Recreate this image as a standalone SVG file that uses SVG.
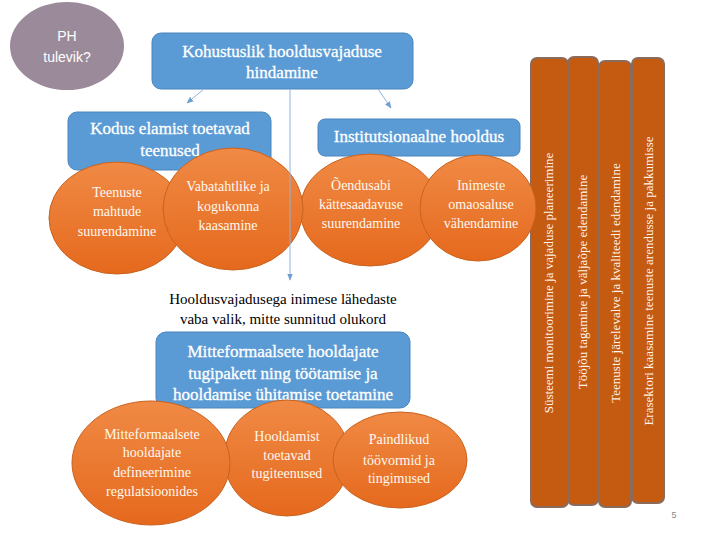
<svg xmlns="http://www.w3.org/2000/svg" width="720" height="540" viewBox="0 0 720 540">
<defs>
<linearGradient id="og" x1="0" y1="0" x2="0" y2="1">
<stop offset="0" stop-color="#f08a45"/>
<stop offset="1" stop-color="#e5691d"/>
</linearGradient>
<marker id="ah" viewBox="0 0 10 10" refX="9" refY="5" markerWidth="7" markerHeight="7" orient="auto-start-reverse">
<path d="M0,1 L10,5 L0,9 z" fill="#6f9fd0"/>
</marker>
<style>
.box{fill:#5b9bd5;stroke:#4a84bd;stroke-width:1}
.ell{fill:url(#og);stroke:#c9621f;stroke-width:1}
.bar{fill:#c55a11;stroke:#8a6b5c;stroke-width:2}
.bt{font-size:17px;fill:#fff;text-anchor:middle;stroke:#fff;stroke-width:0.3}
.et{font-size:14px;fill:#fff8ee;text-anchor:middle}
.vt{font-size:13px;fill:#fff2e6;text-anchor:middle}
.kt{font-size:15px;fill:#000;text-anchor:middle}
.con{stroke:#8fb3da;stroke-width:1;fill:none}
</style>
</defs>
<rect width="720" height="540" fill="#fff"/>

<g id="ph" font-family="Liberation Sans, Arial, sans-serif">
<ellipse cx="67" cy="46" rx="57" ry="44" fill="#9b8a9a"/>
<text x="67" y="41" font-size="14" fill="#fff" text-anchor="middle">PH</text>
<text x="67" y="62" font-size="14" fill="#fff" text-anchor="middle">tulevik?</text>
</g>

<g id="serifroot" font-family="Liberation Serif, Times New Roman, serif">
<g id="bars">
<g id="bar1"><rect class="bar" x="531" y="58" width="37" height="449" rx="6"/>
<text class="vt" transform="translate(553,283) rotate(-90)">Süsteemi  monitoorimine ja  vajaduse planeerimine</text></g>
<g id="bar2"><rect class="bar" x="568" y="57" width="30" height="448" rx="6"/>
<text class="vt" transform="translate(587,282) rotate(-90)">Tööjõu tagamine ja väljaõpe edendamine</text></g>
<g id="bar3"><rect class="bar" x="599" y="61" width="32" height="446" rx="6"/>
<text class="vt" transform="translate(620,283) rotate(-90)">Teenuste järelevalve ja kvaliteedi edendamine</text></g>
<g id="bar4"><rect class="bar" x="632" y="58" width="32" height="445" rx="6"/>
<text class="vt" transform="translate(653,281) rotate(-90)">Erasektori kaasamine teenuste arendusse ja pakkumisse</text></g>
</g>

<g id="top">
<rect class="box" x="152" y="33" width="261" height="56" rx="9"/>
<text class="bt" x="282" y="57">Kohustuslik hooldusvajaduse</text>
<text class="bt" x="282" y="78">hindamine</text>
</g>

<g id="kodus">
<rect class="box" x="68" y="112" width="203" height="58" rx="9"/>
<text class="bt" x="170" y="134">Kodus elamist toetavad</text>
<text class="bt" x="170" y="156">teenused</text>
</g>

<g id="inst">
<rect class="box" x="318" y="119" width="202" height="37" rx="7"/>
<text class="bt" x="419" y="142">Institutsionaalne hooldus</text>
</g>

<g id="e1">
<ellipse class="ell" cx="117" cy="218" rx="68" ry="56"/>
<text class="et" x="117" y="197">Teenuste</text>
<text class="et" x="117" y="216">mahtude</text>
<text class="et" x="117" y="236">suurendamine</text>
</g>
<g id="e3">
<ellipse class="ell" cx="370" cy="210" rx="70" ry="56"/>
<text class="et" x="361" y="190">Õendusabi</text>
<text class="et" x="361" y="209">kättesaadavuse</text>
<text class="et" x="361" y="228">suurendamine</text>
</g>
<g id="e2">
<ellipse class="ell" cx="233" cy="209" rx="70" ry="61"/>
<text class="et" x="228" y="191">Vabatahtlike ja</text>
<text class="et" x="228" y="211">kogukonna</text>
<text class="et" x="228" y="230">kaasamine</text>
</g>
<g id="e4">
<ellipse class="ell" cx="478" cy="208" rx="58" ry="53"/>
<text class="et" x="481" y="190">Inimeste</text>
<text class="et" x="481" y="209">omaosaluse</text>
<text class="et" x="481" y="228">vähendamine</text>
</g>

<g id="connectors">
<line class="con" x1="204" y1="89" x2="187" y2="103" marker-end="url(#ah)"/>
<line class="con" x1="378" y1="89" x2="391" y2="108" marker-end="url(#ah)"/>
<line class="con" x1="290" y1="89" x2="290" y2="280" marker-end="url(#ah)"/>
</g>

<g id="note">
<text class="kt" x="283" y="304">Hooldusvajadusega inimese lähedaste</text>
<text class="kt" x="283" y="324">vaba valik, mitte sunnitud olukord</text>
</g>

<g id="mitte">
<rect class="box" x="156" y="332" width="254" height="76" rx="10"/>
<text class="bt" x="283" y="357">Mitteformaalsete hooldajate</text>
<text class="bt" x="283" y="379">tugipakett ning töötamise ja</text>
<text class="bt" x="283" y="400">hooldamise ühitamise toetamine</text>
</g>

<g id="b2">
<ellipse class="ell" cx="287" cy="458" rx="63" ry="58"/>
<text class="et" x="287" y="441">Hooldamist</text>
<text class="et" x="287" y="460">toetavad</text>
<text class="et" x="287" y="478">tugiteenused</text>
</g>
<g id="b1">
<ellipse class="ell" cx="151" cy="463" rx="79" ry="62"/>
<text class="et" x="152" y="439">Mitteformaalsete</text>
<text class="et" x="152" y="457">hooldajate</text>
<text class="et" x="152" y="477">defineerimine</text>
<text class="et" x="152" y="496">regulatsioonides</text>
</g>
<g id="b3">
<ellipse class="ell" cx="400" cy="460" rx="67" ry="48"/>
<text class="et" x="399" y="444">Paindlikud</text>
<text class="et" x="399" y="465">töövormid ja</text>
<text class="et" x="399" y="483">tingimused</text>
</g>
</g>

<text x="674" y="518" font-family="Liberation Sans, Arial, sans-serif" font-size="9" fill="#888" text-anchor="middle">5</text>
</svg>
